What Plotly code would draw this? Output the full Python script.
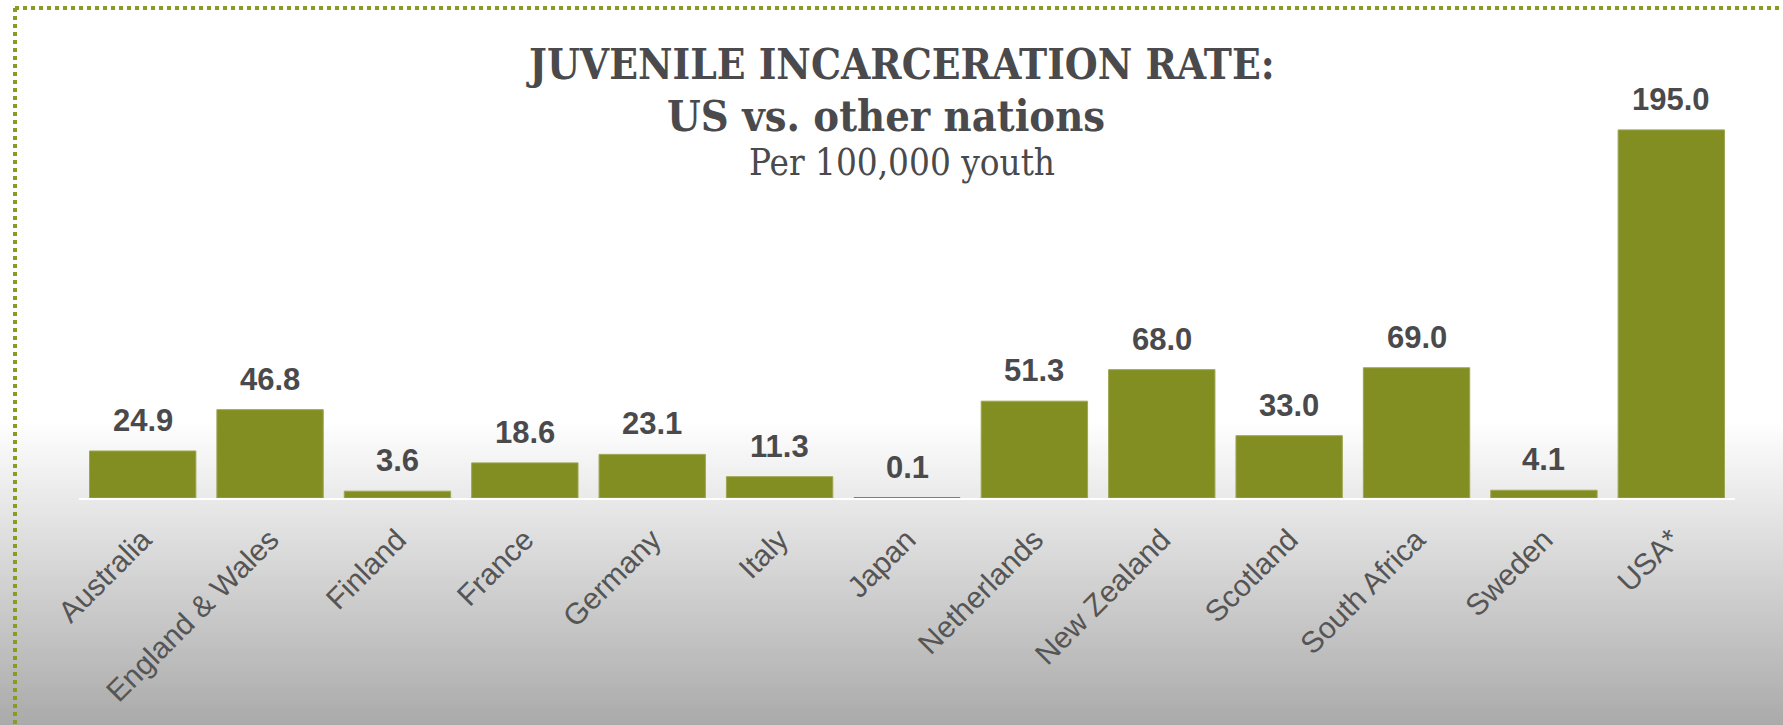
import plotly.graph_objects as go

# Juvenile incarceration rate, per 100,000 youth
countries = ["Australia", "England & Wales", "Finland", "France", "Germany", "Italy",
             "Japan", "Netherlands", "New Zealand", "Scotland", "South Africa",
             "Sweden", "USA*"]
rates = [24.9, 46.8, 3.6, 18.6, 23.1, 11.3, 0.1, 51.3, 68.0, 33.0, 69.0, 4.1, 195.0]

title_lines = ["JUVENILE INCARCERATION RATE:", "US vs. other nations", "Per 100,000 youth"]

W, H = 1783, 725
ML, MR, MT, MB = 79, 48, 111, 227
PW, PH = W - ML - MR, H - MT - MB

BAR = "#838e22"
BAR_EDGE = "#9ea653"
TEXT = "#4a4a4c"
TICK = "#555555"
BORDER = "#8a9b24"


def px_x(px):
    return (px - ML) / PW


def px_y(py):
    return (H - MB - py) / PH


fig = go.Figure()
fig.add_trace(go.Bar(
    x=countries, y=rates,
    marker=dict(color=BAR,
                line=dict(color=BAR_EDGE, width=[1 if v >= 1 else 0 for v in rates])),
    hoverinfo="skip",
))

shapes = []
# soft white-to-grey backdrop in the lower part of the page
g_top, g_bot = 420, H
c_top, c_bot = 255, 170
step = 3
py = g_top
while py < g_bot:
    t = (py + step / 2 - g_top) / (g_bot - g_top)
    c = round(c_top + (c_bot - c_top) * t)
    shapes.append(dict(
        type="rect", xref="paper", yref="paper", layer="below",
        x0=px_x(0), x1=px_x(W), y0=px_y(min(py + step + 0.5, g_bot)), y1=px_y(py),
        fillcolor=f"rgb({c},{c},{c})", line=dict(width=0),
    ))
    py += step

# dotted frame along the top and left edges
shapes.append(dict(type="line", xref="paper", yref="paper", layer="above",
                   x0=px_x(15), x1=px_x(W), y0=px_y(8), y1=px_y(8),
                   line=dict(color=BORDER, width=4, dash="4px,4px")))
shapes.append(dict(type="line", xref="paper", yref="paper", layer="above",
                   x0=px_x(15), x1=px_x(15), y0=px_y(8), y1=px_y(H),
                   line=dict(color=BORDER, width=4, dash="4px,4px")))

annotations = []
for c, v in zip(countries, rates):
    annotations.append(dict(
        x=c, y=v, xref="x", yref="y", text=f"{v:.1f}", showarrow=False,
        yanchor="bottom", yshift=11,
        font=dict(family="Liberation Sans, Arial, sans-serif", size=31,
                  color=TEXT, weight="bold"),
    ))

serif = "DejaVu Serif Condensed, DejaVu Serif, serif"
title_specs = [
    (title_lines[0], 900, 65, 42, "bold"),
    (title_lines[1], 886, 116, 43, "bold"),
    (title_lines[2], 902, 162, 36.5, "normal"),
]
for txt, cx, cy, size, weight in title_specs:
    annotations.append(dict(
        x=px_x(cx), y=px_y(cy), xref="paper", yref="paper", text=txt,
        showarrow=False, xanchor="center", yanchor="middle",
        font=dict(family=serif, size=size, color=TEXT, weight=weight),
    ))

fig.update_layout(
    width=W, height=H,
    margin=dict(l=ML, r=MR, t=MT, b=MB, pad=0),
    paper_bgcolor="white",
    plot_bgcolor="rgba(0,0,0,0)",
    showlegend=False,
    bargap=0.165,
    shapes=shapes,
    annotations=annotations,
    xaxis=dict(
        showline=True, linecolor="white", linewidth=2,
        showgrid=False, ticks="", tickangle=-45, ticklabelstandoff=10,
        tickfont=dict(family="Liberation Sans, Arial, sans-serif", size=30, color=TICK),
        fixedrange=True,
    ),
    yaxis=dict(range=[0, 205], visible=False, showgrid=False, zeroline=False,
               fixedrange=True),
)

fig.write_html("out.html")
